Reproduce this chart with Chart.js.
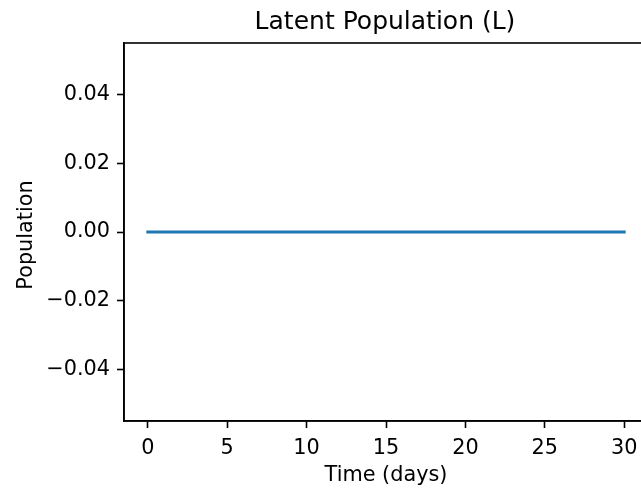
<!DOCTYPE html>
<html>
<head>
<meta charset="utf-8">
<script src="https://cdn.jsdelivr.net/npm/chart.js@4"></script>
<style>
  html, body { margin: 0; padding: 0; background: #fff; overflow: hidden; }
  #wrap { width: 660px; height: 488px; position: relative; }
  canvas { display: block; }
</style>
</head>
<body>
<div id="wrap"><canvas id="c" width="660" height="488"></canvas></div>
<script>
// ---- data ----
const chartTitle = "Latent Population (L)";
const xLabel = "Time (days)";
const yLabel = "Population";
const days = [0,1,2,3,4,5,6,7,8,9,10,11,12,13,14,15,16,17,18,19,20,21,22,23,24,25,26,27,28,29,30];
const latent = [0,0,0,0,0,0,0,0,0,0,0,0,0,0,0,0,0,0,0,0,0,0,0,0,0,0,0,0,0,0,0];
const xTicks = [0, 5, 10, 15, 20, 25, 30];
const yTicks = [-0.04, -0.02, 0.00, 0.02, 0.04];

const FONT = "'DejaVu Sans', sans-serif";
const TICK_SIZE = 20.8;

const textPlugin = {
  id: 'mplText',
  afterDraw(chart) {
    const ctx = chart.ctx;
    const a = chart.chartArea;
    ctx.save();
    ctx.strokeStyle = '#000';
    ctx.lineWidth = 1.6;
    ctx.strokeRect(a.left, a.top, a.right - a.left, a.bottom - a.top);
    ctx.fillStyle = '#000';
    ctx.font = "25px " + FONT;
    ctx.textAlign = 'center';
    ctx.textBaseline = 'alphabetic';
    ctx.fillText(chartTitle, 385, 29);
    ctx.font = TICK_SIZE + "px " + FONT;
    ctx.fillText(xLabel, 386, 481);
    ctx.translate(32, 235);
    ctx.rotate(-Math.PI / 2);
    ctx.fillText(yLabel, 0, 0);
    ctx.restore();
  }
};

const data = {
  datasets: [{
    data: days.map((d, i) => ({ x: d, y: latent[i] })),
    borderColor: '#1f77b4',
    borderWidth: 3,
    borderCapStyle: 'square',
    pointRadius: 0,
    fill: false,
    tension: 0
  }]
};

new Chart(document.getElementById('c'), {
  type: 'line',
  data,
  plugins: [textPlugin],
  options: {
    responsive: false,
    animation: false,
    events: [],
    layout: { padding: { top: 43, right: 12, left: 0, bottom: 0 } },
    plugins: { legend: { display: false }, tooltip: { enabled: false }, title: { display: false } },
    scales: {
      x: {
        type: 'linear',
        min: -1.5,
        max: 31.5,
        afterBuildTicks(s) { s.ticks = xTicks.map(v => ({ value: v })); },
        afterFit(s) { s.height = 67; },
        grid: { drawOnChartArea: false, drawTicks: true, tickLength: 7, tickWidth: 1.6, tickColor: '#000' },
        border: { display: true, color: '#000', width: 1.6 },
        ticks: { color: '#000', font: { family: FONT, size: TICK_SIZE }, padding: 8, maxRotation: 0,
                 autoSkip: false, callback: v => String(v) }
      },
      y: {
        type: 'linear',
        min: -0.055,
        max: 0.055,
        afterBuildTicks(s) { s.ticks = yTicks.map(v => ({ value: v })); },
        afterFit(s) { s.width = 124; },
        grid: { drawOnChartArea: false, drawTicks: true, tickLength: 7, tickWidth: 1.6, tickColor: '#000' },
        border: { display: true, color: '#000', width: 1.6 },
        ticks: { color: '#000', font: { family: FONT, size: TICK_SIZE }, padding: 7, autoSkip: false,
                 callback: v => (v < 0 ? '\u2212' : '') + Math.abs(v).toFixed(2) }
      }
    }
  }
});
</script>
</body>
</html>
